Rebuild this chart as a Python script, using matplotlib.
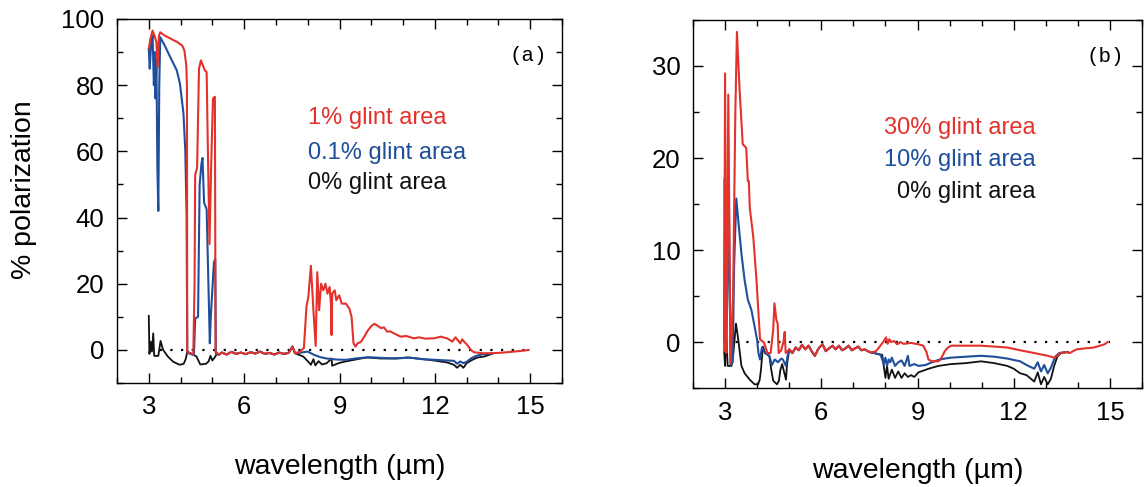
import numpy as np
import matplotlib
matplotlib.use("Agg")
import matplotlib.pyplot as plt
from matplotlib.ticker import MultipleLocator

plt.rcParams['font.family'] = ['Liberation Sans', 'DejaVu Sans']

RED = '#e2322b'
BLUE = '#1f4f9c'
BLACK = '#111111'

# ---- panel (a): 1%, 0.1%, 0% glint area ----
# stretch 5.1-7.8 um where the three curves coincide
a_common_x = [5.2, 5.3, 5.45, 5.6, 5.75, 5.9, 6.05, 6.2, 6.35, 6.5, 6.65, 6.8, 6.95, 7.1, 7.25, 7.4]
a_common_y = [-1.5, -0.8, -1.4, -0.6, -1.2, -0.8, -1.3, -0.7, -1.1, -0.5, -1.2, -0.9, -1.4, -0.8, -1.2, -0.9]

a_red_x = [3.00, 3.05, 3.12, 3.18, 3.24, 3.28, 3.32, 3.36, 3.5, 3.7, 3.9, 4.05, 4.12, 4.18, 4.2,
           4.21, 4.3, 4.4, 4.44, 4.46, 4.52, 4.58, 4.64, 4.70, 4.76, 4.82, 4.86, 4.91, 4.96, 5.02,
           5.08, 5.10]
a_red_y = [91, 94, 96.5, 95, 93, 85.5, 95, 96, 95, 94, 93, 92, 90.5, 86, 80,
           -0.5, -1, -1.3, 20, 53, 55, 85, 87.5, 86, 84.5, 84, 60, 32, 55, 76,
           76.5, -0.5]
a_red_x2 = [7.52, 7.6, 7.75, 7.88, 7.96, 8.02, 8.10, 8.18, 8.25, 8.30, 8.36, 8.42, 8.49, 8.56,
            8.62, 8.69, 8.73, 8.75, 8.77, 8.85, 8.90, 8.99, 9.07, 9.20, 9.31, 9.38, 9.44, 9.50,
            9.57, 9.67, 9.78, 9.88, 9.99, 10.1, 10.2, 10.3, 10.4, 10.5, 10.6, 10.71, 10.8, 10.92,
            11.1, 11.34, 11.5, 11.7, 11.97, 12.18, 12.39, 12.55, 12.65, 12.7, 12.8, 12.86, 12.92,
            13.02, 13.13, 13.23, 13.5, 13.76, 14.0, 14.28, 14.6, 14.81, 14.95]
a_red_y2 = [1, -1, -0.6, 0.6, 13, 16, 25.4, 12, 1.2, 23.5, 12, 20, 18, 20,
            17, 19, 14, 4.5, 17, 18, 15, 16.5, 14, 14, 12.5, 10, 2, 1,
            2, 2.4, 4, 5.7, 7.1, 7.9, 7.3, 6.6, 6.8, 5.5, 5.6, 5, 4.6, 4,
            4.2, 3.5, 3.8, 3.4, 3.5, 4, 3.5, 2.5, 3.8, 3.2, 2, 3.2, 2.5,
            1.5, 0, -0.7, -1, -1, -0.9, -0.7, -0.4, -0.2, 0]

a_blue_x = [3.00, 3.03, 3.07, 3.12, 3.16, 3.19, 3.21, 3.24, 3.27, 3.30, 3.33, 3.36, 3.5, 3.7,
            3.88, 3.98, 4.09, 4.15, 4.19, 4.21, 4.3, 4.42, 4.46, 4.55, 4.60, 4.66, 4.69, 4.74,
            4.82, 4.89, 4.92, 4.95, 5.05, 5.09, 5.11]
a_blue_y = [91, 85, 92, 95, 80, 90, 76, 88, 55, 42, 80, 94.5, 92, 88,
            84.5, 80.5, 71.5, 60, 40, -0.8, -1.2, -1.5, 9.5, 10, 50, 56.5, 58, 44.5,
            42.5, 14.3, 2, 10, 26.5, 27.5, -1]
a_blue_x2 = [7.52, 7.6, 7.8, 8.0, 8.2, 8.4, 8.6, 8.9, 9.2, 9.5, 9.9, 10.3, 10.8, 11.2, 11.6,
             12.0, 12.4, 12.6, 12.7, 12.8, 12.9, 13.0, 13.15, 13.3, 13.5, 13.8]
a_blue_y2 = [1, -1, -0.8, -0.5, -1.5, -2.2, -2.6, -2.9, -3, -2.6, -2.2, -2.4, -2.6, -2.3, -2.8,
             -3, -3.2, -3.3, -4.2, -3.5, -4, -3.6, -2.5, -1.8, -1.3, -1.1]

a_black_x = [3.00, 3.02, 3.06, 3.10, 3.14, 3.17, 3.30, 3.37, 3.45, 3.6, 3.77, 3.97, 4.10, 4.17,
             4.21, 4.35, 4.5, 4.62, 4.80, 4.88, 4.94, 5.0, 5.08, 5.15]
a_black_y = [10.3, -1.2, 2.5, -0.5, 5, -1.8, -1.8, 2.7, 0, -2, -3.6, -4.5, -4.2, -2.5,
             -0.5, -1.2, -2, -4.4, -4.2, -3.5, -1.8, -3.2, -2.2, -1]
a_black_x2 = [7.52, 7.6, 7.86, 8.01, 8.1, 8.18, 8.24, 8.34, 8.45, 8.6, 8.75, 8.77, 8.97, 9.18,
              9.46, 9.67, 9.88, 10.3, 10.7, 11.13, 11.55, 11.97, 12.39, 12.6, 12.7, 12.8, 12.9,
              13.0, 13.18, 13.34, 13.55, 13.8]
a_black_y2 = [1, -1, -2, -3.5, -4.5, -2.8, -4.7, -3.4, -4.4, -4, -2.6, -4.8, -4, -3.5,
              -3, -2.6, -2.3, -2.6, -2.6, -2.3, -2.7, -3.2, -3.8, -4.5, -5.4, -4.5, -5.4,
              -4, -3, -2.3, -2, -1.2]

# ---- panel (b): 30%, 10%, 0% glint area ----
b_common_x = [5.0, 5.1, 5.2, 5.3, 5.4, 5.5, 5.6, 5.7, 5.8, 5.9, 5.94, 6.04, 6.14, 6.24, 6.35,
              6.45, 6.55, 6.65, 6.75, 6.85, 6.95, 7.05, 7.15, 7.25, 7.35, 7.45, 7.55]
b_common_y = [-0.8, -1.2, -0.6, -0.9, -0.3, -0.8, -0.4, -1.0, -1.5, -0.8, -0.6, -0.25, -1,
              -0.7, -0.4, -0.8, -0.4, -0.9, -0.7, -0.4, -0.9, -0.7, -0.5, -0.9, -0.8, -1.0, -1.15]

b_red_x = [2.97, 3.00, 3.04, 3.07, 3.10, 3.17, 3.25, 3.32, 3.37, 3.45, 3.55, 3.66, 3.71, 3.74,
           3.77, 3.88, 3.98, 4.09, 4.22, 4.32, 4.42, 4.50, 4.54, 4.60, 4.64, 4.67, 4.75, 4.82,
           4.86, 4.89]
b_red_y = [-1, 29.2, -1.2, 10, 26.9, -2.3, 5, 25, 33.7, 27.6, 21.5, 21.1, 17.5, 17.5,
           14.6, 11.4, 6.7, 0.3, -0.1, -1.2, -1.2, 1.3, 4.2, 2.4, 2, -1.2, -0.9, 0,
           1.1, -1.2]
b_red_x2 = [7.7, 7.8, 7.95, 8.02, 8.07, 8.12, 8.17, 8.27, 8.37, 8.47, 8.57, 8.8, 9.03, 9.18,
            9.28, 9.34, 9.45, 9.65, 9.75, 9.85, 9.95, 10.05, 10.5, 10.98, 11.4, 11.8, 12.2,
            12.64, 13.06, 13.26, 13.36, 13.47, 13.6, 13.75, 13.85, 13.96, 14.2, 14.5, 14.83, 14.93]
b_red_y2 = [-1, -0.6, 0.1, 0.5, -0.2, 0.3, 0, 0.1, -0.25, 0, -0.2, -0.1, -0.25, -0.4,
            -1.1, -1.9, -2.1, -2.1, -1.7, -1, -0.6, -0.4, -0.4, -0.4, -0.5, -0.6, -0.9,
            -1.2, -1.5, -1.7, -1.5, -1.2, -1.1, -1.2, -1, -0.8, -0.7, -0.6, -0.25, 0]

b_blue_x = [2.97, 2.99, 3.02, 3.06, 3.12, 3.17, 3.24, 3.28, 3.35, 3.43, 3.51, 3.61, 3.71, 3.82,
            3.92, 4.00, 4.04, 4.09, 4.15, 4.25, 4.38, 4.46, 4.55, 4.65, 4.75, 4.8, 4.9, 4.95]
b_blue_y = [0, 17.8, 0.6, 3, 15, -2.5, -2.2, 8, 15.6, 12.5, 9.6, 6.7, 4.6, 3.5,
            1.7, 0.2, -1.2, -1.9, -0.6, -1.2, -1.5, -2.5, -1.9, -2.2, -1.8, -1.9, -2.6, -1.5]
b_blue_x2 = [7.65, 7.85, 7.95, 8.0, 8.05, 8.1, 8.15, 8.2, 8.3, 8.4, 8.5, 8.6, 8.7, 8.75, 8.9,
             9.03, 9.25, 9.45, 9.65, 9.85, 10.05, 10.5, 10.98, 11.4, 11.8, 12.2, 12.4, 12.64,
             12.75, 12.85, 12.95, 13.06, 13.16, 13.26, 13.32, 13.42, 13.6]
b_blue_y2 = [-1.2, -1.4, -2.4, -1.7, -2.6, -1.9, -2.2, -1.7, -2.6, -2.2, -2, -2.6, -1.5, -2.6,
             -2.4, -2.6, -2.5, -2.2, -1.95, -1.8, -1.7, -1.6, -1.5, -1.6, -1.8, -2.1, -2.5,
             -2.9, -2.2, -3.2, -2.5, -3.4, -2.8, -1.9, -1.5, -1.2, -1.1]

b_black_x = [2.97, 3.00, 3.03, 3.08, 3.2, 3.26, 3.34, 3.41, 3.51, 3.61, 3.77, 3.92, 4.03, 4.08,
             4.12, 4.18, 4.25, 4.38, 4.44, 4.5, 4.62, 4.68, 4.72, 4.78, 4.85, 4.9, 4.93, 4.97]
b_black_y = [-1, -2.6, 1.6, -2.6, -2.6, -1.2, 2, 0.3, -2.6, -3.4, -4.1, -4.6, -4.6, -4.1,
             -3, -0.5, -1.2, -1.5, -3, -4.2, -4.6, -4.2, -3.1, -2.4, -3.4, -4.1, -2.5, -1.5]
b_black_x2 = [7.65, 7.9, 8.0, 8.05, 8.1, 8.2, 8.3, 8.4, 8.5, 8.6, 8.7, 8.8, 8.9, 9.03, 9.35,
              9.65, 10.05, 10.5, 10.98, 11.4, 11.8, 12.0, 12.2, 12.4, 12.64, 12.75, 12.85,
              12.95, 13.06, 13.16, 13.26, 13.36, 13.47, 13.7]
b_black_y2 = [-1.2, -1.4, -3.9, -2.6, -4, -3, -3.9, -3.2, -3.9, -3.4, -3.8, -3.6, -3.8, -3.3,
              -2.9, -2.6, -2.4, -2.3, -2.1, -2.3, -2.6, -2.9, -3.4, -3.6, -4.3, -3.3, -4.6,
              -3.8, -4.6, -4, -2.6, -1.6, -1.2, -1.1]

a_labels = ['1% glint area', '0.1% glint area', '0% glint area']
b_labels = ['30% glint area', '10% glint area', '0% glint area']


def join(*parts):
    return np.concatenate([np.asarray(p, dtype=float) for p in parts])


fig = plt.figure(figsize=(11.44, 4.87), dpi=100)
ax_a = fig.add_axes([117/1144, 104/487, 445/1144, 364/487])
ax_b = fig.add_axes([693/1144, 99/487, 449/1144, 368/487])

# panel (a)
ax_a.plot([3, 15], [0, 0], color='k', ls=(0, (1, 3.8)), lw=1.6)
ax_a.plot(join(a_black_x, a_common_x, a_black_x2), join(a_black_y, a_common_y, a_black_y2),
          color=BLACK, lw=1.3)
ax_a.plot(join(a_blue_x, a_common_x, a_blue_x2), join(a_blue_y, a_common_y, a_blue_y2),
          color=BLUE, lw=1.5)
ax_a.plot(join(a_red_x, a_common_x, a_red_x2), join(a_red_y, a_common_y, a_red_y2),
          color=RED, lw=1.5)
ax_a.set_xlim(2, 16)
ax_a.set_ylim(-10, 100)
ax_a.yaxis.set_major_locator(MultipleLocator(20))
ax_a.yaxis.set_minor_locator(MultipleLocator(10))
for txt, col, yy in zip(a_labels, [RED, BLUE, BLACK], [70, 59.5, 50.5]):
    ax_a.text(8.0, yy, txt, color=col, fontsize=17, va='center', ha='left')
ax_a.text(0.924, 0.9, '(a)', transform=ax_a.transAxes, family='Liberation Mono',
          fontsize=15, ha='center', va='center')
ax_a.set_ylabel('% polarization', fontsize=20.5)
ax_a.yaxis.set_label_coords(-0.18, 0.53)
ax_a.set_xlabel('wavelength (\u00b5m)', fontsize=20.5)
ax_a.xaxis.set_label_coords(0.5, -0.195)

# panel (b)
ax_b.plot([3, 15], [0, 0], color='k', ls=(0, (1, 3.8)), lw=1.6)
ax_b.plot(join(b_black_x, b_common_x, b_black_x2), join(b_black_y, b_common_y, b_black_y2),
          color=BLACK, lw=1.3)
ax_b.plot(join(b_blue_x, b_common_x, b_blue_x2), join(b_blue_y, b_common_y, b_blue_y2),
          color=BLUE, lw=1.5)
ax_b.plot(join(b_red_x, b_common_x, b_red_x2), join(b_red_y, b_common_y, b_red_y2),
          color=RED, lw=1.5)
ax_b.set_xlim(2, 16)
ax_b.set_ylim(-5, 35)
ax_b.yaxis.set_major_locator(MultipleLocator(10))
ax_b.yaxis.set_minor_locator(MultipleLocator(5))
for txt, col, yy in zip(b_labels, [RED, BLUE, BLACK], [23.3, 19.8, 16.3]):
    ax_b.text(12.67, yy, txt, color=col, fontsize=17, va='center', ha='right')
ax_b.text(0.918, 0.9, '(b)', transform=ax_b.transAxes, family='Liberation Mono',
          fontsize=15, ha='center', va='center')
ax_b.set_xlabel('wavelength (\u00b5m)', fontsize=20.5)
ax_b.xaxis.set_label_coords(0.5, -0.19)

for ax in (ax_a, ax_b):
    ax.xaxis.set_major_locator(MultipleLocator(3))
    ax.xaxis.set_minor_locator(MultipleLocator(1))
    ax.tick_params(which='both', direction='in', top=True, right=True, width=1)
    ax.tick_params(which='major', length=7, labelsize=18.5, pad=9)
    ax.tick_params(which='minor', length=4)
    for sp in ax.spines.values():
        sp.set_linewidth(1.0)

fig.savefig('out.png', dpi=100)
